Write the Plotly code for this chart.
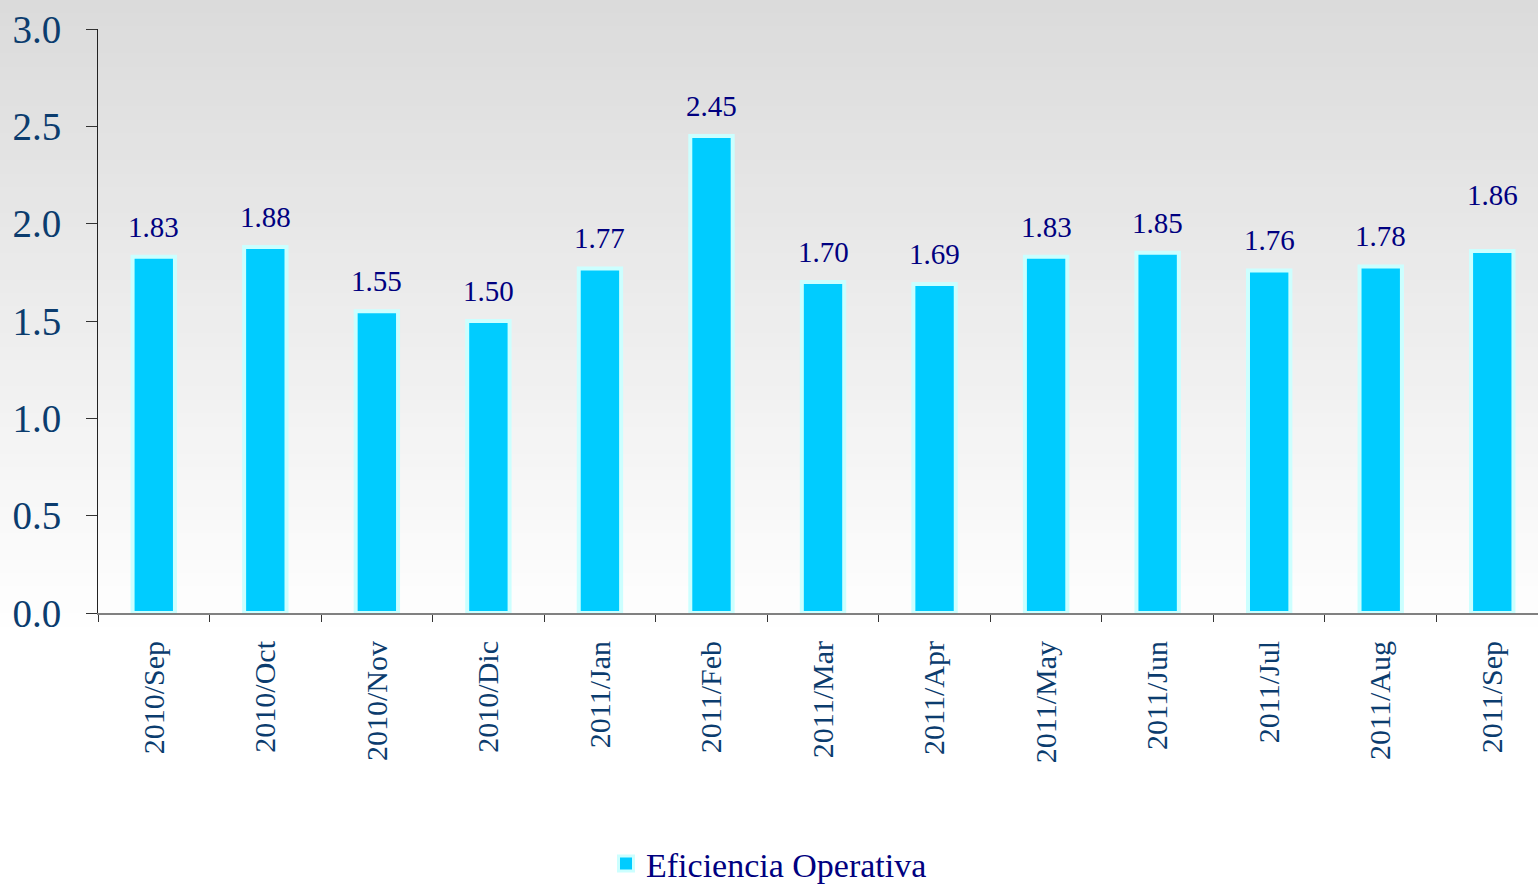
import plotly.graph_objects as go

categories = ["2010/Sep", "2010/Oct", "2010/Nov", "2010/Dic", "2011/Jan", "2011/Feb",
              "2011/Mar", "2011/Apr", "2011/May", "2011/Jun", "2011/Jul", "2011/Aug", "2011/Sep"]
values = [1.83, 1.88, 1.55, 1.50, 1.77, 2.45, 1.70, 1.69, 1.83, 1.85, 1.76, 1.78, 1.86]
label_shift = [4, 4, 4, 4, 4, 4, 4, 4, 4, 4, 4, 4, 30]
series_name = "Eficiencia Operativa"

FONT = "Liberation Serif, Times New Roman, serif"
TICK_COLOR = "#0B3C6E"
LABEL_COLOR = "#000080"

W, H = 1538, 886
ML, MR, MT, MB = 98, 0, 29, 273
PLOT_H = H - MT - MB
X_RANGE = [-0.5, 12.41]  # plot area runs slightly past the right edge


def py_to_paper(py):
    return (H - MB - py) / PLOT_H


fig = go.Figure()
fig.add_trace(go.Bar(
    x=categories, y=values, name=series_name, width=0.38,
    marker=dict(color="#00CCFF", line=dict(color="#CCFFFF", width=4)),
    showlegend=False,
))
fig.add_trace(go.Scatter(
    x=[None], y=[None], mode="markers", name=series_name,
    marker=dict(symbol="square", size=15, color="#00CCFF", line=dict(color="#CCFFFF", width=3)),
))

# gradient background via stacked bands
n = 48
grad_end = 640
top = (0xDB, 0xDB, 0xDB)
for i in range(n):
    t = i / (n - 1)
    c = tuple(int(round(top[k] + (255 - top[k]) * t)) for k in range(3))
    p0 = i * grad_end / n
    p1 = (i + 1) * grad_end / n + 1
    fig.add_shape(type="rect", xref="paper", yref="paper", x0=-0.2, x1=1.2,
                  y0=py_to_paper(p1), y1=py_to_paper(p0),
                  fillcolor="rgb(%d,%d,%d)" % c, line=dict(width=0), layer="below")

for c, v, s in zip(categories, values, label_shift):
    fig.add_annotation(x=c, y=v, text=f"{v:.2f}", showarrow=False, yanchor="bottom",
                       yshift=s + 8, font=dict(family=FONT, size=29, color=LABEL_COLOR))

fig.update_layout(
    width=W, height=H,
    margin=dict(l=ML, r=MR, t=MT, b=MB),
    paper_bgcolor="white", plot_bgcolor="rgba(0,0,0,0)",
    font=dict(family=FONT),
    xaxis=dict(type="category", tickson="boundaries", ticks="outside", ticklen=7,
               tickcolor="#333", showline=True, linecolor="#808080", linewidth=2,
               tickangle=-90, tickfont=dict(family=FONT, size=30, color=TICK_COLOR),
               showgrid=False, range=X_RANGE, ticklabelstandoff=14),
    xaxis2=dict(overlaying="x", anchor="y", range=X_RANGE,
                tickvals=[i + 0.5 for i in range(12)], ticks="inside", ticklen=7,
                tickcolor="#333", showticklabels=False, showgrid=False, zeroline=False,
                showline=False),
    yaxis=dict(range=[0, 3], dtick=0.5, tickformat=".1f", ticks="outside", ticklen=11,
               tickcolor="#333", showline=True, linecolor="#222", linewidth=1,
               showgrid=False, zeroline=False,
               tickfont=dict(family=FONT, size=39, color=TICK_COLOR), ticklabelstandoff=17),
    yaxis2=dict(overlaying="y", anchor="x", range=[0, 3], dtick=0.5, ticks="inside",
                ticklen=11, tickcolor="#333", showticklabels=False, showgrid=False,
                zeroline=False, showline=False),
    legend=dict(orientation="h", xref="container", yref="container", x=0.5, y=0.025,
                xanchor="center", yanchor="middle",
                font=dict(family=FONT, size=34, color=LABEL_COLOR),
                bgcolor="rgba(0,0,0,0)", itemwidth=30),
)

fig.write_html("out.html", config={"displayModeBar": False},
               post_script="document.body.style.margin='0';")
